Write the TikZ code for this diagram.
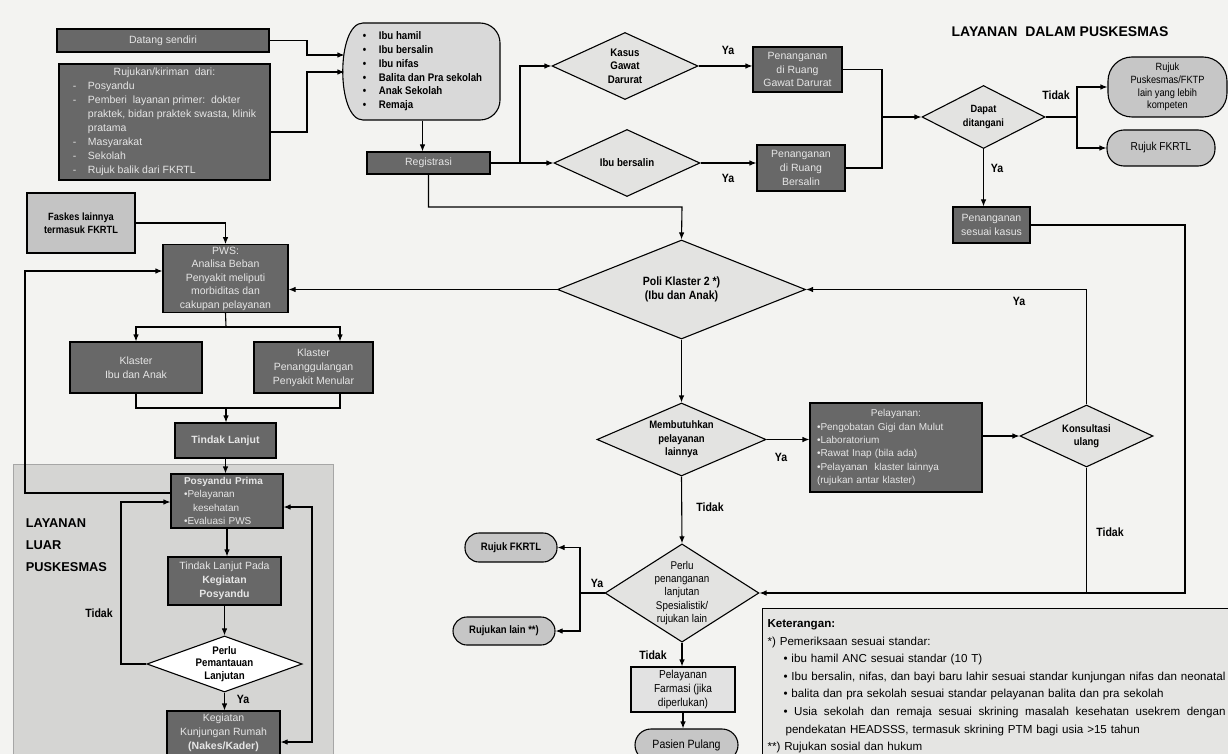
\documentclass[tikz,border=0pt]{standalone}
\usepackage{fontspec}
\setmainfont{Liberation Sans}
\newfontfamily\nrw[FakeStretch=0.88]{Liberation Sans}
\usetikzlibrary{shapes.geometric,arrows.meta}
\definecolor{bgc}{HTML}{F3F3F1}
\definecolor{panel}{HTML}{D5D5D3}
\definecolor{dark}{HTML}{686868}
\definecolor{ltext}{HTML}{E6E6E6}
\definecolor{grpfill}{HTML}{D9D9D9}
\definecolor{diafill}{HTML}{E3E3E1}
\definecolor{pillfill}{HTML}{C6C6C6}
\definecolor{faskesfill}{HTML}{C4C4C4}
\definecolor{ketfill}{HTML}{E5E5E3}
\definecolor{farmfill}{HTML}{E2E2E2}
\newcommand\fsz[2]{\fontsize{#1}{#2}\selectfont}
\begin{document}
\begin{tikzpicture}[x=1pt,y=-1pt,line width=1.1pt,
 arr/.style={-{Latex[length=7pt,width=5.5pt]}},
 arrb/.style={{Latex[length=7pt,width=5.5pt]}-{Latex[length=7pt,width=5.5pt]}},
 dbox/.style={draw,fill=dark,text=ltext,align=center,inner sep=2pt,font=\fsz{10.5}{13.8}},
 dia/.style={diamond,draw,fill=diafill,align=center,inner sep=0pt,font=\nrw\bfseries\fsz{10.8}{13.5}},
 pill/.style={draw,fill=pillfill,align=center,inner sep=1pt,font=\nrw\bfseries\fsz{10.8}{12.5}},
 lbl/.style={font=\nrw\bfseries\fsz{12}{13},inner sep=0pt},
]
\useasboundingbox (0,0) rectangle (1228,754);
\fill[bgc] (0,0) rectangle (1228,754);
\filldraw[fill=panel,draw=gray!70,line width=0.6pt] (13,464) rectangle (333,756);

% ---------- top left inputs
\node[dbox,minimum width=212pt,minimum height=23pt] (datang) at (163,40.5) {Datang sendiri};
\node[dbox,minimum width=211pt,minimum height=112pt,font=\fsz{10.5}{14}] (ruj) at (164.5,122)
 {\begin{tabular}{@{}p{15pt}@{}l@{}}\multicolumn{2}{c}{Rujukan/kiriman\ \ dari:}\\
 - & Posyandu\\
 - & Pemberi\ \ layanan primer:\ \ dokter\\
   & praktek, bidan praktek swasta, klinik\\
   & pratama\\
 - & Masyarakat\\
 - & Sekolah\\
 - & Rujuk balik dari FKRTL\end{tabular}};
% group shape (curved left side, rounded right corners)
\filldraw[fill=grpfill] (363,23) -- (480,23) arc[start angle=90,end angle=0,radius=20pt]
  -- (500,100) arc[start angle=0,end angle=-90,radius=20pt]
  -- (363,120) .. controls (336,120) and (336,23) .. (363,23) -- cycle;
\node[minimum width=155pt,minimum height=97pt,inner sep=0pt,font=\nrw\bfseries\fsz{11}{13.8}] (grp) at (422.5,71.5)
 {\begin{tabular}{@{}p{16pt}@{}l@{}}• & Ibu hamil\\ • & Ibu bersalin\\ • & Ibu nifas\\ • & Balita dan Pra sekolah\\ • & Anak Sekolah\\ • & Remaja\end{tabular}};
\node[dbox,minimum width=123pt,minimum height=22pt] (reg) at (428.5,163) {Registrasi};

% ---------- emergency branch
\node[dia,aspect=2.18,font=\nrw\bfseries\fsz{11}{13.5},minimum width=146pt,minimum height=67pt] (kgd) at (625,66) {Kasus\\Gawat\\Darurat};
\node[dia,aspect=2.18,font=\nrw\bfseries\fsz{11}{13.5},minimum width=146pt,minimum height=67pt] (ibd) at (627,163) {Ibu bersalin};
\node[dbox,minimum width=89pt,minimum height=45pt] (pgd) at (797.5,69.5) {Penanganan\\di Ruang\\Gawat Darurat};
\node[dbox,minimum width=88pt,minimum height=46pt] (pbs) at (801,168) {Penanganan\\di Ruang\\Bersalin};
\node[dia,aspect=1.95,font=\nrw\bfseries\fsz{10.5}{13.5},minimum width=123pt,minimum height=63pt] (dapat) at (983.5,117) {Dapat\\ditangani};
\node[pill,rounded corners=24pt,minimum width=119pt,minimum height=60pt,font=\nrw\fsz{10.5}{12.7}] (rpk) at (1167.5,87) {Rujuk\\Puskesmas/FKTP\\lain yang lebih\\kompeten};
\node[pill,rounded corners=17pt,minimum width=108pt,minimum height=36pt,font=\nrw\fsz{11.5}{12}] (rfk) at (1161,148) {Rujuk FKRTL};
\node[dbox,minimum width=77pt,minimum height=36pt] (psk) at (991.5,225) {Penanganan\\sesuai kasus};
\node[font=\bfseries\fsz{14}{16}] (title) at (1060,32) {LAYANAN\ \ DALAM PUSKESMAS};

% ---------- main column
\node[dia,aspect=2.5,font=\nrw\bfseries\fsz{12}{13.5},minimum width=248pt,minimum height=99pt] (poli) at (681.5,289.5) {Poli Klaster 2 *)\\(Ibu dan Anak)};
\node[dia,aspect=2.32,minimum width=169pt,minimum height=73pt] (mbl) at (681.5,439.5) {Membutuhkan\\pelayanan\\lainnya};
\node[dbox,minimum width=172pt,minimum height=89pt,text width=158pt,align=left,inner xsep=7pt,font=\fsz{10}{13.3}] (pel) at (896,447.5)
 {\makebox[158pt][c]{Pelayanan:}\\•Pengobatan Gigi dan Mulut\\•Laboratorium\\•Rawat Inap (bila ada)\\•Pelayanan\ \ klaster lainnya\\(rujukan antar klaster)};
\node[dia,aspect=2.15,minimum width=133pt,minimum height=62pt] (kons) at (1086.5,436) {Konsultasi\\ulang};
\node[dia,aspect=1.567,minimum width=152pt,minimum height=97pt,font=\nrw\fsz{11.2}{13.2}] (perlu) at (682,593) {Perlu\\penanganan\\lanjutan\\Spesialistik/\\rujukan lain};
\node[pill,rounded corners=14pt,minimum width=92pt,minimum height=29pt] (rfk2) at (511,547.5) {Rujuk FKRTL};
\node[pill,rounded corners=14pt,minimum width=102pt,minimum height=28pt] (rlain) at (504,631) {Rujukan lain **)};
\node[draw,fill=farmfill,minimum width=104pt,minimum height=45pt,align=center,inner sep=1pt,font=\nrw\fsz{11.5}{14}] (farm) at (683,689.5) {Pelayanan\\Farmasi (jika\\diperlukan)};
\node[pill,rounded corners=16pt,minimum width=103pt,minimum height=32pt,font=\nrw\fsz{12}{13}] (pp2) at (686.5,745) {Pasien Pulang};

% ---------- left column
\node[draw,fill=faskesfill,minimum width=108pt,minimum height=60pt,align=center,font=\nrw\bfseries\fsz{10.5}{13}] (faskes) at (81,223) {Faskes lainnya\\termasuk FKRTL};
\node[dbox,minimum width=125pt,minimum height=67pt,font=\fsz{10.5}{13.5}] (pws) at (225.5,278.5) {PWS:\\Analisa Beban\\Penyakit meliputi\\morbiditas dan\\cakupan pelayanan};
\node[dbox,minimum width=132pt,minimum height=51pt] (kia) at (136,367.5) {Klaster\\Ibu dan Anak};
\node[dbox,minimum width=119pt,minimum height=51pt] (kpm) at (313.5,367.5) {Klaster\\Penanggulangan\\Penyakit Menular};
\node[dbox,minimum width=101pt,minimum height=35pt,font=\bfseries\fsz{10.5}{13}] (tl) at (225.5,440.5) {Tindak Lanjut};
\node[dbox,minimum width=112pt,minimum height=54pt,text width=86pt,align=left,inner xsep=13pt,font=\fsz{10}{13.3}] (pp) at (227,501)
 {\textbf{Posyandu Prima}\\•Pelayanan\\\hspace*{9pt}kesehatan\\•Evaluasi PWS};
\node[dbox,minimum width=113pt,minimum height=48pt] (tlp) at (224.5,581) {Tindak Lanjut Pada\\\textbf{Kegiatan}\\\textbf{Posyandu}};
\node[dia,aspect=2.77,fill=white,minimum width=155pt,minimum height=56pt,font=\nrw\bfseries\fsz{11}{12.5}] (ppl) at (224.5,664) {Perlu\\Pemantauan\\Lanjutan};
\node[dbox,minimum width=113pt,minimum height=44pt] (kkr) at (223.5,733) {Kegiatan\\Kunjungan Rumah\\\textbf{(Nakes/Kader)}};
\node[anchor=west,align=left,font=\bfseries\fsz{12.8}{22}] (luar) at (22,545) {LAYANAN\\LUAR\\PUSKESMAS};

% ---------- legend
\node[draw,fill=ketfill,anchor=north west,text width=462pt,align=left,inner xsep=5pt,inner ysep=11pt,font=\fsz{11.6}{17.6}] (ket) at (762,608)
 {\textbf{Keterangan:}\\
 \relax *) Pemeriksaan sesuai standar:\\
 \hspace*{16pt}• ibu hamil ANC sesuai standar (10 T)\\
 \hspace*{16pt}• Ibu bersalin, nifas, dan bayi baru lahir sesuai standar kunjungan nifas dan neonatal\\
 \hspace*{16pt}• balita dan pra sekolah sesuai standar pelayanan balita dan pra sekolah\\
 \hspace*{16pt}\makebox[442pt][s]{\spaceskip=0.28em plus 1fil\relax • Usia sekolah dan remaja sesuai skrining masalah kesehatan usekrem dengan}\\
 \hspace*{18pt}pendekatan HEADSSS, termasuk skrining PTM bagi usia >15 tahun\\
 \relax **) Rujukan sosial dan hukum};

% ---------- labels
\node[lbl] (ya1) at (728,50) {Ya};
\node[lbl] (ya2) at (728,178) {Ya};
\node[lbl] (td1) at (1056,95) {Tidak};
\node[lbl] (ya3) at (997,168) {Ya};
\node[lbl] (ya4) at (1019,301) {Ya};
\node[lbl] (td2) at (710,507) {Tidak};
\node[lbl] (ya5) at (781,457) {Ya};
\node[lbl] (td3) at (1110,532) {Tidak};
\node[lbl] (ya6) at (597,583) {Ya};
\node[lbl] (td4) at (653,655) {Tidak};
\node[lbl] (td5) at (99,613) {Tidak};
\node[lbl] (ya7) at (243,699) {Ya};

% ---------- connectors
\coordinate (a1) at (307,55);
\coordinate (a2) at (307,72);
\draw[arr] (datang.east) -| (a1) -- (a1 -| grp.west);
\draw[arr] ([yshift=-10pt]ruj.east) -| (a2) -- (a2 -| grp.west);
\draw[arr] (grp.south) -- (grp.south |- reg.north);
\coordinate (b1) at (520,163);
\draw (reg.east) -- (b1);
\draw[arr] (b1) -- (ibd.west);
\draw[arr] (b1) |- (kgd.west);
\draw[arr] (kgd.east) -- (kgd.east -| pgd.west);
\draw[arr] (ibd.east) -- (ibd.east -| pbs.west);
\coordinate (j1) at (882,117);
\draw (pgd.east) -| (j1);
\draw (pbs.east) -| (j1);
\draw[arr] (j1) -- (dapat.west);
\coordinate (j2) at (1077,117);
\draw (dapat.east) -- (j2);
\draw[arr] (j2) |- (rpk.west);
\draw[arr] (j2) |- (rfk.west);
\draw[arr] (dapat.south) -- (dapat.south |- psk.north);
\coordinate (c1) at (1185,593);
\draw[arr] (psk.east) -| (c1) -- (perlu.east);
\draw (kons.south) -- (kons.south |- c1);
\coordinate (r1) at (682,207);
\draw[arr] (reg.south) |- (r1) -- (poli.north);
\draw[arr] (poli.west) -- (poli.west -| pws.east);
\draw[arr] (poli.south) -- (mbl.north);
\draw[arr] (mbl.east) -- (mbl.east -| pel.west);
\draw[arr] (kons.west -| pel.east) -- (kons.west);
\draw[arr] (kons.north) |- (poli.east);
\draw[arr] (mbl.south) -- (perlu.north);
\coordinate (y1) at (580,593);
\draw (perlu.west) -- (y1);
\draw[arr] (y1) |- (rfk2.east);
\draw[arr] (y1) |- (rlain.east);
\draw[arr] (perlu.south) -- (perlu.south |- farm.north);
\draw[arr] (farm.south) -- (farm.south |- pp2.north);
\draw[arr] (faskes.east) -| (pws.north);
\coordinate (l1) at (25,271);
\draw[arr] ([yshift=8pt]pp.west) -| (l1) -- (l1 -| pws.west);
\coordinate (s1) at (226,327);
\coordinate (s2) at (340,327);
\draw (pws.south) -- (s1);
\draw[arr] (s1) -| (kia.north);
\draw[arr] (s1) -- (s2) -- (s2 |- kpm.north);
\coordinate (m1) at (226,408);
\draw (kia.south) |- (m1);
\draw (s2 |- kpm.south) |- (m1);
\draw[arr] (m1) -- (m1 |- tl.north);
\draw[arr] (tl.south) -- (tl.south |- pp.north);
\draw[arr] (pp.south) -- (pp.south |- tlp.north);
\draw[arr] (tlp.south) -- (tlp.south |- ppl.north);
\coordinate (t1) at (121,502);
\draw[arr] (ppl.west) -| (t1) -- (t1 -| pp.west);
\draw[arr] (ppl.south) -- (ppl.south |- kkr.north);
\coordinate (r2) at (312,507);
\draw[arrb] ([yshift=-9pt]kkr.east) -| (r2) -- (r2 -| pp.east);
\end{tikzpicture}
\end{document}
